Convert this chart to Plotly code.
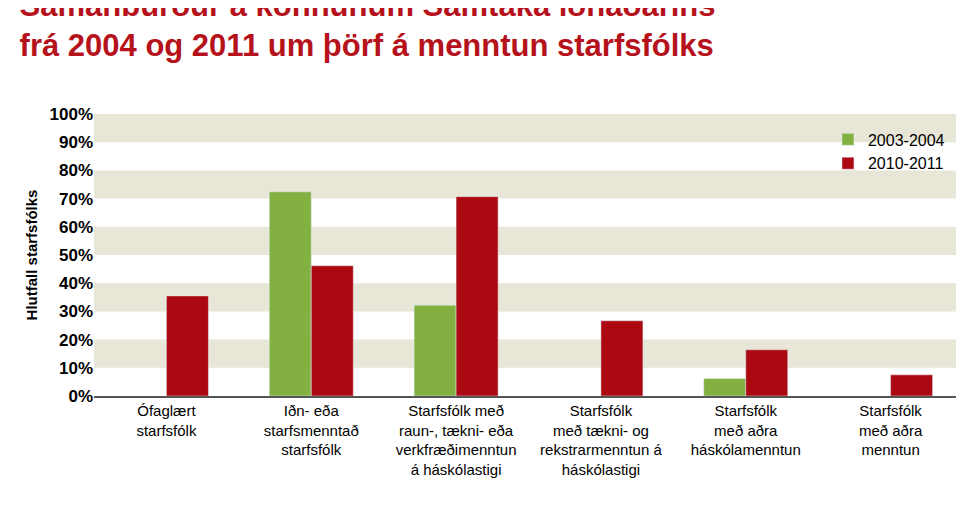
import plotly.graph_objects as go

categories = ["Ófaglært<br>starfsfólk", "Iðn- eða<br>starfsmenntað<br>starfsfólk",
              "Starfsfólk með<br>raun-, tækni- eða<br>verkfræðimenntun<br>á háskólastigi",
              "Starfsfólk<br>með tækni- og<br>rekstrarmenntun á<br>háskólastigi",
              "Starfsfólk<br>með aðra<br>háskólamenntun", "Starfsfólk<br>með aðra<br>menntun"]
s2004 = [None, 72.4, 32.2, None, 6.2, None]
s2011 = [35.5, 46.2, 70.7, 26.7, 16.4, 7.5]
yticks = list(range(0, 101, 10))

fig = go.Figure()
fig.add_bar(x=categories, y=s2004, name="2003-2004", marker_color="#82b142")
fig.add_bar(x=categories, y=s2011, name="2010-2011", marker_color="#ab0811")

shapes = []
for lo in [10, 30, 50, 70, 90]:
    shapes.append(dict(type="rect", xref="paper", yref="y", x0=0, x1=1, y0=lo, y1=lo + 10,
                       fillcolor="#e8e6d6", line_width=0, layer="below"))

F = "Liberation Sans, Arial, sans-serif"
fig.update_layout(
    width=964, height=509, plot_bgcolor="white", paper_bgcolor="white",
    margin=dict(l=86, r=9, t=106, b=121, autoexpand=False),
    barmode="group", bargap=0.42, bargroupgap=0,
    shapes=shapes,
    font=dict(family=F, color="black"),
    title=dict(text="<b>Samanburður á könnunum Samtaka iðnaðarins<br>frá 2004 og 2011 um þörf á menntun starfsfólks</b>",
               x=0.012, xanchor="left", yref="container", y=0.985, yanchor="top",
               font=dict(size=31, color="#b5121b", family=F)),
    legend=dict(x=0.985, xanchor="right", y=0.97, yanchor="top", bgcolor="rgba(0,0,0,0)",
                font=dict(size=16, family=F)),
    xaxis=dict(tickfont=dict(size=15, family=F), automargin=False,
               showline=True, linecolor="#555", linewidth=2, ticks=""),
    yaxis=dict(range=[0, 100], tickvals=yticks, ticktext=[f"<b>{v}%</b>" for v in yticks],
               tickfont=dict(size=17), showgrid=False, zeroline=False, automargin=False,
               title=dict(text="<b>Hlutfall starfsfólks</b>", font=dict(size=15), standoff=8)),
)
fig.add_annotation(text="<b>Menntun starfsfólks</b>", xref="paper", yref="paper", x=0.5, y=-0.405,
                   xanchor="center", yanchor="top", showarrow=False, font=dict(size=16))
fig.add_annotation(text="Heimild: Samtök iðnaðarins", xref="paper", yref="paper", x=0.995, y=-0.41,
                   xanchor="right", yanchor="top", showarrow=False, font=dict(size=11))
fig.write_html("out.html")
